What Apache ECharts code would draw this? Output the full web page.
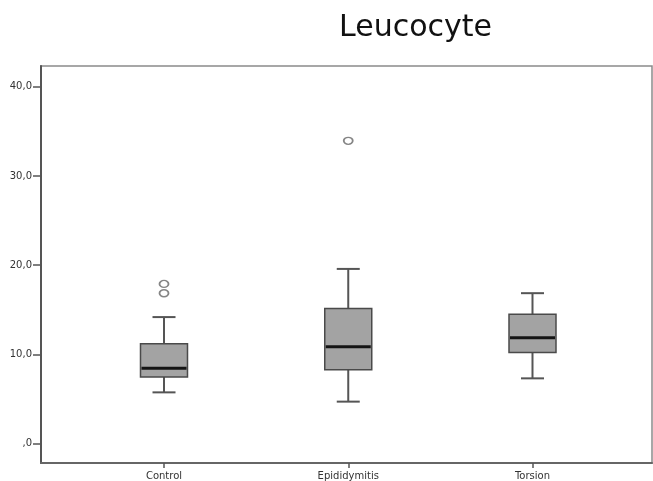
<!DOCTYPE html>
<html>
<head>
<meta charset="utf-8">
<script src="https://cdn.jsdelivr.net/npm/echarts@6/dist/echarts.min.js"></script>
<style>
html,body{margin:0;padding:0;background:#fff;}
#chart{width:653px;height:481px;}
</style>
</head>
<body>
<div id="chart"></div>
<script>
const categories = ['Control', 'Epididymitis', 'Torsion'];
const positions = [1, 2, 3];
const lowWhisker = [5.74, 4.70, 7.31];
const q1 = [7.46, 8.28, 10.22];
const median = [8.43, 10.85, 11.86];
const q3 = [11.19, 15.14, 14.51];
const highWhisker = [14.18, 19.58, 16.86];
const outlierX = [1, 1, 2];
const outlierY = [17.9, 16.85, 33.94];
const yTicks = [0, 10, 20, 30, 40];

const boxData = positions.map((p, i) => [p, lowWhisker[i], q1[i], median[i], q3[i], highWhisker[i]]);
const outlierData = outlierX.map((x, i) => [x, outlierY[i]]);

function fmtY(v) {
  if (v === 0) return ',0';
  return v.toFixed(1).replace('.', ',');
}

const chart = echarts.init(document.getElementById('chart'), null, {renderer: 'canvas'});
const BOX_HALF = 23.5, CAP_HALF = 11.5;
const edge = '#4a4a4a';

chart.setOption({
  animation: false,
  backgroundColor: '#fff',
  title: {
    text: 'Leucocyte',
    left: 334,
    top: 8,
    textStyle: {fontFamily: 'DejaVu Sans', fontSize: 30, fontWeight: 'normal', color: '#111'}
  },
  grid: {left: 41, right: 1, top: 66, bottom: 17, show: true, borderColor: '#8a8a8a', borderWidth: 1.5, backgroundColor: 'transparent'},
  xAxis: {
    type: 'value',
    min: 0.3324,
    max: 3.6486,
    splitLine: {show: false},
    axisLine: {show: true, onZero: false, lineStyle: {color: '#666', width: 2}},
    axisTick: {show: true, customValues: positions, length: 5, lineStyle: {color: '#555', width: 1.5}},
    axisLabel: {
      customValues: positions,
      formatter: v => categories[Math.round(v) - 1],
      fontFamily: 'DejaVu Sans', fontSize: 10, color: '#333', margin: 8
    }
  },
  yAxis: {
    type: 'value',
    min: -2.18,
    max: 42.33,
    splitLine: {show: false},
    axisLine: {show: true, onZero: false, lineStyle: {color: '#555', width: 2}},
    axisTick: {show: true, customValues: yTicks, length: 8, lineStyle: {color: '#555', width: 1.5}},
    axisLabel: {
      customValues: yTicks,
      formatter: fmtY,
      fontFamily: 'DejaVu Sans', fontSize: 10, color: '#333', margin: 9
    }
  },
  series: [
    {
      type: 'custom',
      data: boxData,
      encode: {x: 0, y: [1, 2, 3, 4, 5]},
      renderItem: function (params, api) {
        const x = api.value(0);
        const pLo = api.coord([x, api.value(1)]);
        const pQ1 = api.coord([x, api.value(2)]);
        const pMed = api.coord([x, api.value(3)]);
        const pQ3 = api.coord([x, api.value(4)]);
        const pHi = api.coord([x, api.value(5)]);
        const cx = pMed[0];
        const lineStyle = {stroke: '#555', lineWidth: 2};
        return {
          type: 'group',
          children: [
            {type: 'line', shape: {x1: cx, y1: pHi[1], x2: cx, y2: pQ3[1]}, style: lineStyle},
            {type: 'line', shape: {x1: cx, y1: pQ1[1], x2: cx, y2: pLo[1]}, style: lineStyle},
            {type: 'line', shape: {x1: cx - CAP_HALF, y1: pHi[1], x2: cx + CAP_HALF, y2: pHi[1]}, style: lineStyle},
            {type: 'line', shape: {x1: cx - CAP_HALF, y1: pLo[1], x2: cx + CAP_HALF, y2: pLo[1]}, style: lineStyle},
            {type: 'rect', shape: {x: cx - BOX_HALF, y: pQ3[1], width: BOX_HALF * 2, height: pQ1[1] - pQ3[1]},
              style: {fill: '#a3a3a3', stroke: edge, lineWidth: 1.5}},
            {type: 'line', shape: {x1: cx - BOX_HALF + 1, y1: pMed[1], x2: cx + BOX_HALF - 1, y2: pMed[1]},
              style: {stroke: '#141414', lineWidth: 3}}
          ]
        };
      }
    },
    {
      type: 'scatter',
      data: outlierData,
      symbol: 'circle',
      symbolSize: [9, 7],
      itemStyle: {color: '#fff', borderColor: '#666', borderWidth: 1.6}
    }
  ]
});
</script>
</body>
</html>
